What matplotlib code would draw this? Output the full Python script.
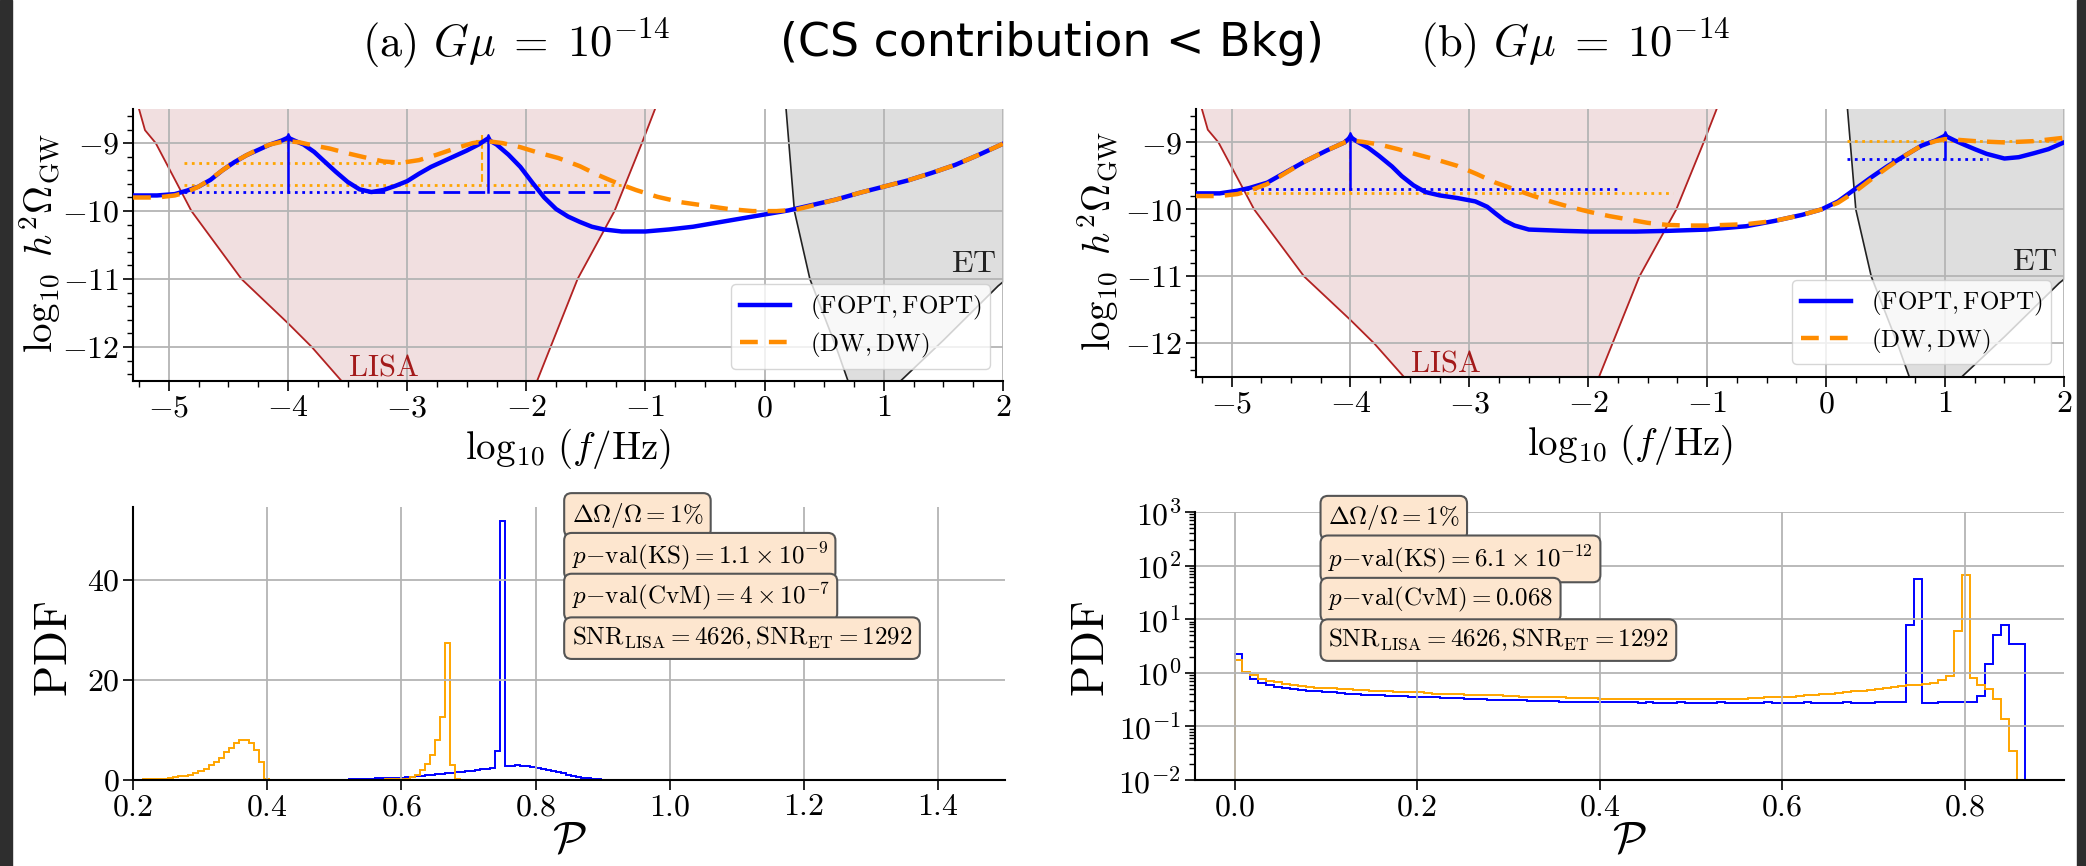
import numpy as np
import matplotlib
matplotlib.use('Agg')
import matplotlib.pyplot as plt
from matplotlib.ticker import MultipleLocator, LogLocator
from matplotlib.patches import Rectangle

plt.rcParams['font.family'] = 'serif'
plt.rcParams['font.serif'] = ['cmr10']
plt.rcParams['mathtext.fontset'] = 'cm'
plt.rcParams['axes.formatter.use_mathtext'] = True

# --- sensitivity curves (log10 f, log10 h^2 Omega) ---
lisa_x = [-5.33, -5.25, -5.2, -5.11, -4.81, -4.39, -4.0, -3.8, -3.55, -3.2, -2.7,
          -2.2, -1.91, -1.57, -1.26, -1.03, -0.92, -0.86]
lisa_y = [-8.2, -8.5, -8.81, -9.0, -10.0, -11.0, -11.65, -12.0, -12.5, -13.0, -13.3,
          -13.0, -12.5, -11.0, -10.0, -9.0, -8.5, -8.2]
et_x = [0.16, 0.18, 0.25, 0.38, 0.6, 0.7, 0.9, 1.14, 1.5, 1.96, 2.1]
et_y = [-8.2, -8.5, -10.0, -11.0, -12.0, -12.5, -12.9, -12.5, -11.9, -11.1, -10.9]

# --- panel (a) spectra ---
a_fopt_x = [-5.3, -5.1, -4.95, -4.85, -4.75, -4.65, -4.55, -4.45, -4.35, -4.25, -4.15,
            -4.05, -4.0, -3.95, -3.87, -3.78, -3.7, -3.6, -3.5, -3.4, -3.3, -3.2, -3.1,
            -3.0, -2.9, -2.8, -2.7, -2.6, -2.5, -2.4, -2.33, -2.25, -2.15, -2.05, -1.95,
            -1.85, -1.75, -1.65, -1.55, -1.45, -1.35, -1.2, -1.0, -0.8, -0.6, -0.4, -0.2,
            0.0, 0.2, 0.4, 0.6, 0.8, 1.0, 1.2, 1.4, 1.6, 1.8, 2.0]
a_fopt_y = [-9.77, -9.77, -9.75, -9.70, -9.64, -9.54, -9.40, -9.28, -9.18, -9.10, -9.02,
            -8.96, -8.92, -8.96, -9.02, -9.13, -9.26, -9.42, -9.57, -9.68, -9.72, -9.69, -9.63,
            -9.56, -9.45, -9.35, -9.27, -9.19, -9.11, -9.02, -8.94, -9.02, -9.17, -9.35, -9.58,
            -9.80, -9.97, -10.08, -10.16, -10.23, -10.27, -10.30, -10.30, -10.27, -10.23, -10.17, -10.11,
            -10.05, -9.99, -9.91, -9.83, -9.73, -9.64, -9.55, -9.44, -9.32, -9.17, -9.01]
a_dw_x = [-5.3, -5.1, -4.95, -4.85, -4.75, -4.65, -4.55, -4.45, -4.35, -4.25, -4.15, -4.05,
          -4.0, -3.9, -3.8, -3.65, -3.5, -3.33, -3.2, -3.05, -2.9, -2.75, -2.6, -2.45, -2.33,
          -2.2, -2.05, -1.9, -1.73, -1.55, -1.41, -1.25, -1.08, -0.9, -0.7, -0.5, -0.3, -0.1,
          0.1, 0.26, 0.4, 0.6, 0.8, 1.0, 1.2, 1.4, 1.6, 1.8, 2.0]
a_dw_y = [-9.80, -9.80, -9.77, -9.72, -9.64, -9.53, -9.40, -9.28, -9.18, -9.09, -9.02, -8.98,
          -8.97, -8.99, -9.03, -9.08, -9.15, -9.22, -9.27, -9.29, -9.25, -9.17, -9.08, -9.0, -8.97,
          -9.0, -9.06, -9.14, -9.22, -9.34, -9.46, -9.58, -9.69, -9.79, -9.87, -9.92, -9.97, -10.0,
          -10.0, -9.98, -9.92, -9.83, -9.73, -9.64, -9.55, -9.44, -9.32, -9.17, -9.01]

# --- panel (b) spectra ---
b_fopt_x = [-5.3, -5.1, -4.95, -4.85, -4.7, -4.55, -4.38, -4.2, -4.05, -4.0, -3.95, -3.85,
            -3.76, -3.65, -3.57, -3.47, -3.37, -3.25, -3.1, -2.95, -2.85, -2.78, -2.7, -2.62,
            -2.5, -2.2, -1.98, -1.6, -1.34, -1.0, -0.67, -0.43, -0.2, -0.04, 0.1, 0.24, 0.38,
            0.52, 0.66, 0.8, 0.92, 1.0, 1.08, 1.17, 1.25, 1.35, 1.5, 1.62, 1.75, 1.87, 2.0]
b_fopt_y = [-9.76, -9.76, -9.72, -9.68, -9.6, -9.45, -9.28, -9.12, -9.0, -8.92, -8.98, -9.08,
            -9.2, -9.36, -9.5, -9.64, -9.74, -9.79, -9.83, -9.88, -9.96, -10.06, -10.17, -10.24,
            -10.3, -10.32, -10.33, -10.33, -10.32, -10.30, -10.25, -10.17, -10.08, -10.0, -9.88,
            -9.70, -9.52, -9.35, -9.2, -9.05, -8.97, -8.90, -8.97, -9.04, -9.1, -9.17, -9.24,
            -9.22, -9.16, -9.1, -9.0]
b_dw_x = [-5.3, -5.1, -4.95, -4.85, -4.7, -4.55, -4.38, -4.2, -4.05, -4.0, -3.9, -3.76, -3.6,
          -3.44, -3.27, -3.1, -2.94, -2.78, -2.62, -2.46, -2.3, -2.14, -1.98, -1.82, -1.66, -1.5,
          -1.34, -1.18, -1.0, -0.67, -0.43, -0.2, -0.04, 0.1, 0.24, 0.38, 0.52, 0.66, 0.8, 0.92,
          1.0, 1.1, 1.25, 1.5, 1.75, 2.0]
b_dw_y = [-9.80, -9.80, -9.77, -9.72, -9.62, -9.46, -9.28, -9.12, -9.0, -8.97, -8.99, -9.03, -9.1,
          -9.18, -9.26, -9.35, -9.47, -9.6, -9.7, -9.8, -9.89, -9.97, -10.04, -10.1, -10.15, -10.2,
          -10.23, -10.24, -10.24, -10.22, -10.17, -10.08, -10.0, -9.9, -9.74, -9.55, -9.37, -9.2,
          -9.05, -8.98, -8.95, -8.96, -8.98, -9.0, -8.98, -8.93]

# peak markers: (x, y_top, y_bottom)
a_fopt_peaks = [(-4.0, -8.92, -9.72), (-2.32, -8.94, -9.72)]
a_dw_peaks = [(-4.0, -8.97, -9.29), (-2.37, -8.97, -9.62)]
b_fopt_peaks = [(-4.0, -8.92, -9.70), (1.0, -8.90, -9.24)]
b_dw_peaks = [(-4.0, -8.97, -9.75)]

# widths: (y, x_start, x_end, style)
a_fopt_widths = [(-9.72, -4.87, -3.33, ':'), (-9.72, -3.33, -1.28, (0, (6, 3)))]
a_dw_widths = [(-9.29, -4.87, -3.04, ':'), (-9.62, -4.87, -1.17, ':')]
b_fopt_widths = [(-9.70, -4.88, -1.73, ':'), (-9.24, 0.18, 1.36, ':')]
b_dw_widths = [(-9.75, -4.88, -1.29, ':'), (-8.98, 0.18, 2.0, ':')]

# --- histograms, panel (a): bins of width 0.0075 starting at 0.2 ---
hist_a_start = 0.2
hist_a_width = 0.0075
hist_a_fopt = [0.01, 0.01, 0.01, 0.01, 0.01, 0.01, 0.01, 0.01, 0.01, 0.01,
               0.03, 0.03, 0.03, 0.03, 0.03, 0.03, 0.03, 0.03, 0.03, 0.03,
               0.03, 0.03, 0.03, 0.03, 0.03, 0.03, 0.03, 0.03, 0.03, 0.03,
               0.03, 0.05, 0.05, 0.05, 0.05, 0.05, 0.05, 0.05, 0.05, 0.05,
               0.05, 0.08, 0.1, 0.13, 0.17, 0.22, 0.27, 0.3, 0.33, 0.37,
               0.4, 0.44, 0.47, 0.5, 0.6, 0.7, 0.8, 0.9, 1.0, 1.1,
               1.2, 1.3, 1.4, 1.5, 1.6, 1.7, 1.8, 1.9, 2.0, 2.15,
               2.3, 2.45, 5.9, 51.8, 2.8, 2.9, 2.95, 2.9, 2.8, 2.7,
               2.5, 2.3, 2.05, 1.8, 1.6, 1.35, 1.1, 0.9, 0.7, 0.5,
               0.35, 0.25, 0.15, 0.1, 0.05, 0.02]
hist_a_dw = [0.1, 0.1, 0.15, 0.15, 0.2, 0.25, 0.3, 0.45, 0.6, 0.75,
             0.9, 1.1, 1.35, 1.8, 2.3, 3.0, 3.7, 4.4, 5.6, 6.5,
             7.5, 8.1, 8.1, 7.4, 6.1, 3.6, 0.3, 0.05, 0.05, 0.05,
             0.05, 0.05, 0.05, 0.05, 0.05, 0.05, 0.05, 0.05, 0.05, 0.05,
             0.05, 0.05, 0.05, 0.05, 0.05, 0.05, 0.08, 0.08, 0.1, 0.1,
             0.12, 0.12, 0.15, 0.2, 0.3, 0.6, 1.0, 2.0, 3.3, 5.0,
             8.0, 12.7, 27.4, 3.0, 0.3, 0.1, 0.1, 0.1, 0.1, 0.1,
             0.1, 0.1, 0.1, 0.1, 0.1, 0.1]

# --- histograms, panel (b): 100 bins of width 0.00866 starting at 0 ---
hist_b_start = 0.0
hist_b_width = 0.00866
hist_b_fopt = [2.25, 0.98, 0.76, 0.65, 0.59, 0.55, 0.52, 0.50, 0.48, 0.46,
               0.45, 0.44, 0.43, 0.42, 0.41, 0.40, 0.39, 0.385, 0.38, 0.375,
               0.37, 0.365, 0.36, 0.36, 0.355, 0.35, 0.345, 0.34, 0.335, 0.33,
               0.325, 0.32, 0.315, 0.31, 0.31, 0.305, 0.305, 0.30, 0.30, 0.30,
               0.295, 0.29, 0.29, 0.29, 0.285, 0.285, 0.28, 0.285, 0.28, 0.28,
               0.28, 0.275, 0.28, 0.275, 0.27, 0.275, 0.28, 0.275, 0.275, 0.27,
               0.275, 0.28, 0.275, 0.275, 0.27, 0.275, 0.275, 0.28, 0.275, 0.27,
               0.275, 0.275, 0.28, 0.275, 0.275, 0.27, 0.275, 0.28, 0.275, 0.275,
               0.275, 0.28, 0.28, 0.28, 0.285, 7.9, 57.0, 0.275, 0.275, 0.28,
               0.28, 0.29, 0.28, 0.28, 0.37, 1.48, 5.0, 7.8, 3.5, 3.5]
hist_b_dw = [1.75, 1.05, 0.91, 0.78, 0.70, 0.66, 0.62, 0.59, 0.57, 0.55,
             0.53, 0.52, 0.51, 0.50, 0.49, 0.48, 0.47, 0.46, 0.45, 0.45,
             0.44, 0.44, 0.43, 0.43, 0.42, 0.41, 0.41, 0.40, 0.40, 0.39,
             0.39, 0.39, 0.38, 0.38, 0.37, 0.37, 0.36, 0.36, 0.36, 0.35,
             0.35, 0.35, 0.34, 0.34, 0.34, 0.34, 0.33, 0.33, 0.33, 0.33,
             0.33, 0.33, 0.32, 0.33, 0.32, 0.32, 0.32, 0.32, 0.32, 0.32,
             0.32, 0.32, 0.33, 0.33, 0.33, 0.34, 0.34, 0.35, 0.35, 0.36,
             0.36, 0.37, 0.38, 0.39, 0.40, 0.41, 0.42, 0.43, 0.45, 0.46,
             0.48, 0.50, 0.52, 0.54, 0.56, 0.58, 0.60, 0.63, 0.65, 0.72,
             0.89, 6.0, 68.0, 0.81, 0.6, 0.49, 0.32, 0.14, 0.035]

box_texts_a = [r'$\Delta\Omega/\Omega = 1\%$',
               r'$p{-}\mathrm{val(KS)} = 1.1 \times 10^{-9}$',
               r'$p{-}\mathrm{val(CvM)} = 4 \times 10^{-7}$',
               r'$\mathrm{SNR_{LISA}} = 4626, \mathrm{SNR_{ET}} = 1292$']
box_texts_b = [r'$\Delta\Omega/\Omega = 1\%$',
               r'$p{-}\mathrm{val(KS)} = 6.1 \times 10^{-12}$',
               r'$p{-}\mathrm{val(CvM)} = 0.068$',
               r'$\mathrm{SNR_{LISA}} = 4626, \mathrm{SNR_{ET}} = 1292$']

BLUE = '#0000ff'
DORANGE = '#ff8c00'
ORANGE = '#ffa500'


def draw_spectrum(ax, fx, fy, dx, dy, fpeaks, dpeaks, fwid, dwid, ylab_x):
    ax.fill_between(lisa_x, lisa_y, -8.0, color='#f1dfe0', lw=0, zorder=1)
    ax.plot(lisa_x, lisa_y, color='#b22222', lw=1.3, zorder=1.2)
    ax.fill_between(et_x, et_y, -8.0, color='#dedede', lw=0, zorder=1)
    ax.plot(et_x, et_y, color='#222222', lw=1.2, zorder=1.2)
    ax.text(-3.5, -12.42, r'$\mathrm{LISA}$', color='#a31a1a', fontsize=22, va='baseline')
    ax.text(1.95, -10.9, r'$\mathrm{ET}$', color='#222222', fontsize=23, ha='right', va='baseline')

    for y, x0, x1, ls in dwid:
        ax.plot([x0, x1], [y, y], color=ORANGE, lw=2, ls=ls, zorder=2)
    for y, x0, x1, ls in fwid:
        ax.plot([x0, x1], [y, y], color=BLUE, lw=2, ls=ls, zorder=2.1)
    for x, y0, y1 in dpeaks:
        ax.plot([x, x], [y0, y1], color=ORANGE, lw=1.5, ls='--', zorder=2)
        ax.plot([x], [y0], marker='+', color=ORANGE, ms=9, mew=1.5, zorder=2)
    for x, y0, y1 in fpeaks:
        ax.plot([x, x], [y0, y1], color=BLUE, lw=1.8, zorder=2.1)
        ax.plot([x], [y0 + 0.03], marker='^', color=BLUE, ms=5, zorder=2.1)

    ax.plot(fx, fy, color=BLUE, lw=3.2, zorder=3, label=r'$(\mathrm{FOPT},\mathrm{FOPT})$')
    ax.plot(dx, dy, color=DORANGE, lw=3.2, ls=(0, (4, 2.5)), zorder=3.1,
            label=r'$(\mathrm{DW},\mathrm{DW})$')

    ax.set_xlim(-5.3, 2)
    ax.set_ylim(-12.5, -8.5)
    ax.xaxis.set_major_locator(MultipleLocator(1))
    ax.xaxis.set_minor_locator(MultipleLocator(0.25))
    ax.yaxis.set_major_locator(MultipleLocator(1))
    ax.yaxis.set_minor_locator(MultipleLocator(0.2))
    ax.set_xlabel(r'$\log_{10}\,(f/\mathrm{Hz})$', fontsize=28, labelpad=3)
    ax.set_ylabel(r'$\log_{10}\;h^2\Omega_{\rm GW}$', fontsize=28)
    ax.yaxis.set_label_coords(ylab_x, 0.507)
    ax.legend(loc='lower right', fontsize=18, handlelength=2.0,
              labelspacing=0.35, borderpad=0.35)


def style_axes(ax):
    ax.grid(True, color='#b4b4b4', lw=1.3)
    for s in ['top', 'right']:
        ax.spines[s].set_visible(False)
    ax.spines['left'].set_linewidth(1.5)
    ax.spines['bottom'].set_linewidth(1.5)
    ax.tick_params(which='major', labelsize=23, length=7, width=1.2, pad=3)
    ax.tick_params(which='minor', length=4, width=1.0)


def draw_boxes(ax, texts, x, ys):
    for t, y in zip(texts, ys):
        ax.text(x, y, t, transform=ax.transAxes, fontsize=18, ha='left', va='center',
                bbox=dict(boxstyle='round,pad=0.3', facecolor='#fde6cf', edgecolor='#555555', lw=1.5),
                zorder=5)


fig = plt.figure(figsize=(20.86, 8.66), dpi=100)
fig.patch.set_facecolor('white')
fig.patches.append(Rectangle((0, 0), 12 / 2086, 1, transform=fig.transFigure,
                             color='#2e2e2e', zorder=-1))
fig.patches.append(Rectangle((2077 / 2086, 0), 9 / 2086, 1, transform=fig.transFigure,
                             color='#2e2e2e', zorder=-1))

ax1 = fig.add_axes([0.0638, 0.560, 0.417, 0.314])
ax2 = fig.add_axes([0.5733, 0.5647, 0.4161, 0.3095])
ax3 = fig.add_axes([0.0638, 0.0993, 0.418, 0.315])
ax4 = fig.add_axes([0.5729, 0.0993, 0.4166, 0.3095])

for ax in [ax1, ax2, ax3, ax4]:
    style_axes(ax)

draw_spectrum(ax1, a_fopt_x, a_fopt_y, a_dw_x, a_dw_y, a_fopt_peaks, a_dw_peaks,
              a_fopt_widths, a_dw_widths, -0.08)
draw_spectrum(ax2, b_fopt_x, b_fopt_y, b_dw_x, b_dw_y, b_fopt_peaks, b_dw_peaks,
              b_fopt_widths, b_dw_widths, -0.086)

# histograms (a)
edges_af = hist_a_start + hist_a_width * np.arange(len(hist_a_fopt) + 1)
edges_ad = hist_a_start + hist_a_width * np.arange(len(hist_a_dw) + 1)
ax3.stairs(hist_a_fopt, edges_af, color=BLUE, lw=1.4, baseline=0)
ax3.stairs(hist_a_dw, edges_ad, color=ORANGE, lw=1.4, baseline=0)
ax3.set_xlim(0.2, 1.5)
ax3.set_ylim(0, 54.6)
ax3.xaxis.set_major_locator(MultipleLocator(0.2))
ax3.yaxis.set_major_locator(MultipleLocator(20))
ax3.set_ylabel(r'$\mathrm{PDF}$', fontsize=33)
ax3.yaxis.set_label_coords(-0.066, 0.48)
ax3.set_xlabel(r'$\mathcal{P}$', fontsize=32, labelpad=0)
draw_boxes(ax3, box_texts_a, 0.503, [0.971, 0.82, 0.670, 0.52])

# histograms (b)
edges_bf = hist_b_start + hist_b_width * np.arange(len(hist_b_fopt) + 1)
edges_bd = hist_b_start + hist_b_width * np.arange(len(hist_b_dw) + 1)
ax4.stairs(hist_b_fopt, edges_bf, color=BLUE, lw=1.4, baseline=1e-4)
ax4.stairs(hist_b_dw, edges_bd, color=ORANGE, lw=1.4, baseline=1e-4)
ax4.set_yscale('log')
ax4.set_xlim(-0.0433, 0.909)
ax4.set_ylim(1e-2, 1e3)
ax4.yaxis.set_major_locator(LogLocator(base=10, numticks=10))
ax4.yaxis.set_minor_locator(LogLocator(base=10, subs=np.arange(2, 10), numticks=10))
ax4.xaxis.set_major_locator(MultipleLocator(0.2))
ax4.set_ylabel(r'$\mathrm{PDF}$', fontsize=33)
ax4.yaxis.set_label_coords(-0.094, 0.49)
ax4.set_xlabel(r'$\mathcal{P}$', fontsize=32, labelpad=0)
draw_boxes(ax4, box_texts_b, 0.153, [0.978, 0.825, 0.672, 0.522])

# slide titles
fig.text(516 / 2086, 1 - 43 / 866, r'(a) $G\mu\;=\;10^{-14}$', fontsize=32, ha='center', va='center')
fig.text(1575 / 2086, 1 - 43 / 866, r'(b) $G\mu\;=\;10^{-14}$', fontsize=32, ha='center', va='center')
fig.text(1052 / 2086, 1 - 44 / 866, '(CS contribution < Bkg)', fontsize=33,
         family='DejaVu Sans', ha='center', va='center')

fig.savefig('out.png', dpi=100)
